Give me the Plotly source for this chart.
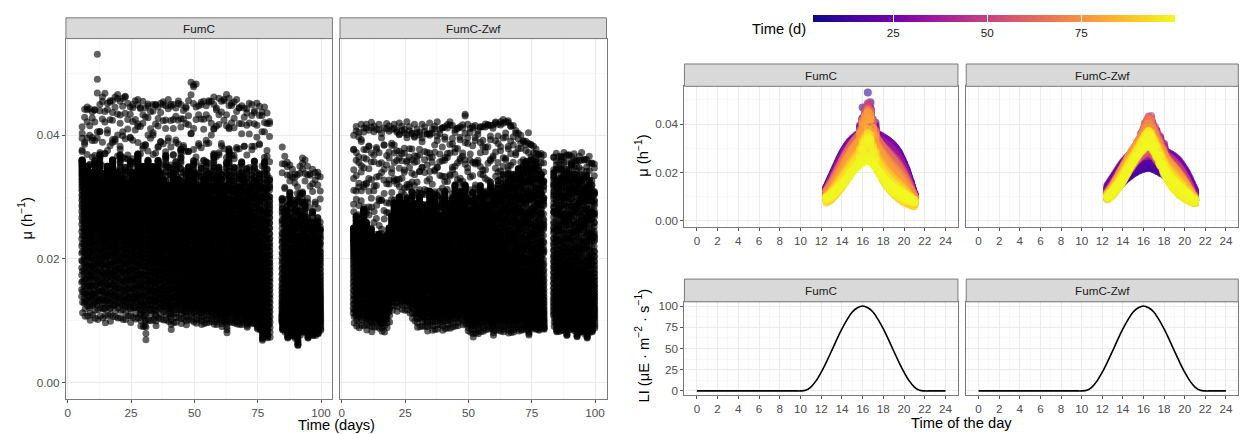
import plotly.graph_objects as go

W, H = 1241, 434
FONT = "Liberation Sans, Arial, sans-serif"

# ---------------- data ----------------
STRAINS = ["FumC", "FumC-Zwf"]

# sampling hours of the daily growth curve (light period, every 7.5 min)
HOURS = [12.5, 12.625, 12.75, 12.875, 13.0, 13.125, 13.25, 13.375, 13.5, 13.625,
         13.75, 13.875, 14.0, 14.125, 14.25, 14.375, 14.5, 14.625, 14.75, 14.875,
         15.0, 15.125, 15.25, 15.375, 15.5, 15.625, 15.75, 15.875, 16.0, 16.125,
         16.25, 16.375, 16.5, 16.625, 16.75, 16.875, 17.0, 17.125, 17.25, 17.375,
         17.5, 17.625, 17.75, 17.875, 18.0, 18.125, 18.25, 18.375, 18.5, 18.625,
         18.75, 18.875, 19.0, 19.125, 19.25, 19.375, 19.5, 19.625, 19.75, 19.875,
         20.0, 20.125, 20.25, 20.375, 20.5, 20.625, 20.75, 20.875, 21.0]
# normalised daily curve (0 = night floor, 1 = shoulder): broad (early run) vs narrow (late run)
RAMP_EARLY = [.15, .195, .24, .285, .33, .375, .42, .465, .51, .555,
              .60, .64, .68, .715, .75, .78, .81, .835, .86, .88,
              .90, .915, .93, .945, .96, .97, .98, .985, .99, .995,
              1.0, 1.0, 1.0, 1.0, 1.0, .995, .99, .985, .98, .975,
              .97, .96, .95, .94, .93, .92, .91, .895, .88, .865,
              .85, .83, .81, .785, .76, .73, .70, .66, .62, .575,
              .53, .48, .43, .37, .31, .245, .18, .115, .05]
RAMP_LATE = [.06, .075, .09, .105, .12, .145, .17, .195, .22, .25,
             .28, .31, .34, .38, .42, .46, .50, .54, .58, .62,
             .66, .695, .73, .765, .80, .83, .86, .89, .92, .945,
             .97, .985, 1.0, .98, .95, .91, .87, .82, .77, .72,
             .67, .62, .57, .52, .47, .43, .39, .355, .32, .29,
             .26, .235, .21, .19, .17, .15, .13, .115, .10, .085,
             .07, .06, .05, .04, .03, .02, .01, .005, .00]
# day-to-day alternation of the curve width around the seasonal trend
WIDTH_SWING = [-0.2, 0.2]
# share of the midday peak above the shoulder (three day-to-day variants per strain)
FUMC_TOP_HOURS = [[15.75, 16.0, 16.5, 16.75, 17.25],
                  [16.0, 16.25, 16.5, 17.0, 17.25],
                  [15.75, 16.25, 16.5, 16.75, 17.0]]
FUMC_TOP_FRACS = [[.35, .70, 1.0, .80, .40],
                  [.55, .90, 1.0, .60, .30],
                  [.25, .75, .95, 1.0, .50]]
ZWF_TOP_HOURS = [[15.5, 15.875, 16.25, 16.5, 16.875, 17.25, 17.625, 18.0],
                 [15.625, 16.0, 16.375, 16.625, 17.0, 17.375, 17.75, 18.125],
                 [15.375, 15.75, 16.125, 16.5, 16.75, 17.125, 17.5, 17.875]]
ZWF_TOP_FRACS = [[.30, .55, .85, 1.0, .85, .65, .45, .25],
                 [.35, .65, .95, 1.0, .75, .55, .35, .15],
                 [.20, .45, .75, .95, 1.0, .70, .50, .30]]
FIRST_DAY, LAST_DAY = 4, 99

FUMC_DAYS = [5, 6, 7, 8, 9, 10, 11, 12, 13, 14,
             15, 16, 17, 18, 19, 20, 21, 22, 23, 24,
             25, 26, 27, 28, 29, 30, 31, 32, 33, 34,
             35, 36, 37, 38, 39, 40, 41, 42, 43, 44,
             45, 46, 47, 48, 49, 50, 51, 52, 53, 54,
             55, 56, 57, 58, 59, 60, 61, 62, 63, 64,
             65, 66, 67, 68, 69, 70, 71, 72, 73, 74,
             75, 76, 77, 78, 79,
             84, 85, 86, 87, 88, 89, 90, 91, 92, 93,
             94, 95, 96, 97, 98, 99]
FUMC_PEAK = [.0414, .0442, .0446, .0443, .0438, .0445, .0531, .0450, .0462, .0468,
             .0452, .0460, .0456, .0462, .0466, .0455, .0460, .0468, .0452, .0446,
             .0450, .0456, .0458, .0450, .0455, .0444, .0452, .0438, .0450, .0456,
             .0446, .0452, .0456, .0448, .0458, .0455, .0450, .0444, .0458, .0450,
             .0440, .0452, .0456, .0486, .0485, .0483, .0448, .0459, .0455, .0448,
             .0460, .0455, .0462, .0450, .0460, .0455, .0463, .0466, .0460, .0458,
             .0454, .0458, .0450, .0448, .0444, .0448, .0452, .0450, .0444, .0452,
             .0447, .0444, .0446, .0436, .0427,
             .0381, .0366, .0360, .0352, .0345, .0340, .0336, .0350, .0366, .0360,
             .0350, .0342, .0345, .0340, .0344, .0333]
FUMC_SHOULDER = [.036, .033, .035, .032, .034, .036, .033, .037, .032, .034,
                 .035, .033, .036, .032, .034, .037, .033, .035, .032, .036,
                 .034, .033, .037, .032, .035, .034, .036, .033, .035, .032,
                 .036, .034, .033, .037, .032, .035, .034, .036, .033, .038,
                 .032, .034, .035, .033, .036, .034, .032, .035, .033, .036,
                 .034, .032, .037, .033, .035, .034, .032, .036, .038, .033,
                 .035, .032, .034, .036, .033, .035, .032, .034, .036, .033,
                 .034, .032, .036, .035, .033,
                 .030, .028, .029, .031, .027, .029, .030, .028, .031, .029,
                 .027, .026, .028, .026, .027, .025]
FUMC_LOW = [.0100, .0098, .0095, .0092, .0097, .0094, .0090, .0098, .0093, .0088,
            .0096, .0091, .0094, .0099, .0092, .0096, .0090, .0094, .0097, .0089,
            .0093, .0096, .0091, .0085, .0078, .0062, .0088, .0094, .0090, .0086,
            .0093, .0097, .0091, .0095, .0089, .0080, .0087, .0092, .0096, .0090,
            .0094, .0089, .0093, .0097, .0088, .0092, .0095, .0090, .0087, .0093,
            .0089, .0096, .0085, .0091, .0094, .0088, .0092, .0078, .0090, .0095,
            .0089, .0093, .0087, .0092, .0096, .0088, .0091, .0094, .0089, .0086,
            .0080, .0068, .0070, .0072, .0068,
            .0085, .0078, .0072, .0080, .0075, .0068, .0060, .0074, .0082, .0078,
            .0072, .0080, .0076, .0074, .0079, .0083]

ZWF_DAYS = [4, 5, 6, 7, 8, 9, 10, 11, 12, 13,
            14, 15, 16, 17, 18, 19, 20, 21, 22, 23,
            24, 25, 26, 27, 28, 29, 30, 31, 32, 33,
            34, 35, 36, 37, 38, 39, 40, 41, 42, 43,
            44, 45, 46, 47, 48, 49, 50, 51, 52, 53,
            54, 55, 56, 57, 58, 59, 60, 61, 62, 63,
            64, 65, 66, 67, 68, 69, 70, 71, 72, 73,
            74, 75, 76, 77, 78, 79,
            83, 84, 85, 86, 87, 88, 89, 90, 91, 92,
            93, 94, 95, 96, 97, 98, 99]
ZWF_PEAK = [.0400, .0415, .0405, .0418, .0412, .0420, .0408, .0422, .0415, .0410,
            .0418, .0405, .0412, .0420, .0415, .0410, .0418, .0412, .0420, .0416,
            .0410, .0422, .0414, .0408, .0418, .0412, .0406, .0418, .0414, .0408,
            .0420, .0412, .0416, .0422, .0410, .0418, .0414, .0420, .0424, .0416,
            .0410, .0418, .0414, .0420, .0437, .0418, .0412, .0420, .0416, .0410,
            .0418, .0414, .0420, .0424, .0416, .0420, .0426, .0418, .0424, .0430,
            .0422, .0428, .0420, .0416, .0410, .0406, .0400, .0396, .0392, .0404,
            .0388, .0384, .0378, .0374, .0372, .0368,
            .0368, .0372, .0366, .0370, .0374, .0368, .0372, .0366, .0370, .0364,
            .0368, .0372, .0365, .0362, .0366, .0360, .0356]
ZWF_SHOULDER = [.025, .027, .025, .026, .028, .026, .024, .025, .023, .022,
                .024, .022, .023, .024, .025, .027, .029, .028, .030, .027,
                .029, .030, .028, .031, .029, .028, .030, .029, .027, .029,
                .031, .028, .030, .029, .027, .030, .031, .029, .028, .030,
                .032, .029, .031, .030, .032, .030, .028, .031, .030, .029,
                .032, .030, .031, .029, .032, .030, .031, .033, .031, .034,
                .032, .035, .033, .034, .032, .035, .034, .035, .036, .034,
                .036, .035, .036, .035, .034, .033,
                .034, .035, .033, .036, .034, .035, .033, .036, .034, .035,
                .033, .034, .032, .034, .033, .032, .031]
ZWF_LOW = [.0088, .0084, .0080, .0086, .0082, .0078, .0084, .0076, .0082, .0086,
           .0080, .0078, .0074, .0084, .0090, .0112, .0116, .0110, .0118, .0114,
           .0108, .0112, .0104, .0098, .0090, .0084, .0080, .0086, .0082, .0078,
           .0084, .0080, .0076, .0082, .0086, .0080, .0078, .0084, .0080, .0086,
           .0082, .0088, .0094, .0090, .0086, .0080, .0074, .0070, .0072, .0076,
           .0074, .0080, .0078, .0084, .0080, .0074, .0078, .0082, .0076, .0080,
           .0084, .0078, .0074, .0080, .0086, .0082, .0078, .0084, .0080, .0076,
           .0082, .0086, .0080, .0084, .0090, .0086,
           .0086, .0082, .0078, .0084, .0080, .0076, .0082, .0086, .0080, .0074,
           .0078, .0082, .0076, .0072, .0078, .0082, .0086]

# light intensity profile (same for both strains)
LI_HOURS = [0, 0.5, 1, 1.5, 2, 2.5, 3, 3.5, 4, 4.5, 5, 5.5, 6, 6.5, 7, 7.5, 8, 8.5,
            9, 9.5, 10, 10.5, 11, 11.5, 12, 12.5, 13, 13.5, 14, 14.5, 15, 15.5,
            16, 16.5, 17, 17.5, 18, 18.5, 19, 19.5, 20, 20.5, 21, 21.5, 22, 22.5,
            23, 23.5, 24]
LI_VALUES = [0, 0, 0, 0, 0, 0, 0, 0, 0, 0, 0, 0, 0, 0, 0, 0, 0, 0,
             0, 0, 0, 0.7, 4.5, 11.8, 22, 34, 47, 60.5, 73, 84, 93, 98,
             100, 98, 93, 84, 73, 60.5, 47, 34, 22, 11.8, 4.5, 0.7, 0, 0,
             0, 0, 0]

for arrs in [(FUMC_DAYS, FUMC_PEAK, FUMC_SHOULDER, FUMC_LOW),
             (ZWF_DAYS, ZWF_PEAK, ZWF_SHOULDER, ZWF_LOW)]:
    assert len(set(len(a) for a in arrs)) == 1, [len(a) for a in arrs]
assert len(HOURS) == len(RAMP_EARLY) == len(RAMP_LATE), (len(HOURS), len(RAMP_EARLY), len(RAMP_LATE))
assert len(LI_HOURS) == len(LI_VALUES)


def build(days, peak, shoulder, low, top_hours, top_fracs):
    t_days, t_hours, mus = [], [], []
    for i, (d, pk, sh, lo) in enumerate(zip(days, peak, shoulder, low)):
        w = (d - FIRST_DAY) / (LAST_DAY - FIRST_DAY) + WIDTH_SWING[i % 2]
        w = min(1.0, max(0.0, w))
        k = i % len(top_hours)
        top = dict(zip(top_hours[k], top_fracs[k]))
        for h, re_, rl in zip(HOURS, RAMP_EARLY, RAMP_LATE):
            r = (1 - w) * re_ + w * rl
            t_days.append(d + h / 24.0)
            t_hours.append(h)
            mus.append(lo + (sh - lo) * r + (pk - sh) * top.get(h, 0.0))
    return t_days, t_hours, mus


DATA = {
    "FumC": build(FUMC_DAYS, FUMC_PEAK, FUMC_SHOULDER, FUMC_LOW,
                  FUMC_TOP_HOURS, FUMC_TOP_FRACS),
    "FumC-Zwf": build(ZWF_DAYS, ZWF_PEAK, ZWF_SHOULDER, ZWF_LOW,
                      ZWF_TOP_HOURS, ZWF_TOP_FRACS),
}

# ---------------- layout geometry (pixels) ----------------
LEFT_X = [(65, 331.7), (339.3, 606)]
LEFT_Y = (36, 400.5)
LEFT_STRIP = (15, 36)
RIGHT_X = [(684, 957.7), (966, 1238.3)]
RT_Y = (84.3, 226.7)
RT_STRIP = (61.7, 84.3)
RB_Y = (302.3, 396.7)
RB_STRIP = (279.3, 302.3)


def xd(a, b):
    return [a / W, b / W]


def yd(top, bottom):
    return [1 - bottom / H, 1 - top / H]


TICK_FONT = dict(family=FONT, size=11.7, color="#4D4D4D")
BORDER = "#7A7A7A"
GRID = "#EBEBEB"


def axis(domain, rng, dtick, minor_dtick, labels=True, anchor=None, fmt=None):
    d = dict(domain=domain, range=rng, dtick=dtick, tick0=0,
             showgrid=True, gridcolor=GRID, gridwidth=1,
             minor=dict(dtick=minor_dtick, tick0=0, showgrid=True,
                        gridcolor="#F3F3F3", gridwidth=0.6, ticks=""),
             zeroline=False, showline=True, mirror=True, linecolor=BORDER,
             linewidth=1, ticks="outside" if labels else "", ticklen=3,
             tickcolor="#555555", tickwidth=1, showticklabels=labels,
             tickfont=TICK_FONT, anchor=anchor, fixedrange=True)
    if fmt:
        d["tickformat"] = fmt
    return d


fig = go.Figure()
layout = dict(width=W, height=H, margin=dict(l=0, r=0, t=0, b=0),
              paper_bgcolor="white", plot_bgcolor="white", showlegend=False,
              hovermode=False, font=dict(family=FONT))

YR = [-0.00265, 0.05565]
# left panels: mu vs time (days)
for i, s in enumerate(STRAINS):
    n = 1 + i
    t_days, _, mus = DATA[s]
    fig.add_trace(go.Scatter(x=t_days, y=mus, mode="markers",
                             marker=dict(size=7, color="black", opacity=0.62,
                                         line=dict(width=0)),
                             xaxis=f"x{n}", yaxis=f"y{n}"))
    layout[f"xaxis{n}"] = axis(xd(*LEFT_X[i]), [-0.7, 104.5], 25, 12.5,
                               anchor=f"y{n}")
    layout[f"yaxis{n}"] = axis(yd(*LEFT_Y), YR, 0.02, 0.01, labels=(i == 0),
                               anchor=f"x{n}", fmt=".2f")

# right top panels: mu vs hour of day, coloured by day
for i, s in enumerate(STRAINS):
    n = 3 + i
    t_days, t_hours, mus = DATA[s]
    fig.add_trace(go.Scatter(x=t_hours, y=mus, mode="markers",
                             marker=dict(size=8, color=t_days, coloraxis="coloraxis",
                                         opacity=0.6, line=dict(width=0)),
                             xaxis=f"x{n}", yaxis=f"y{n}"))
    layout[f"xaxis{n}"] = axis(xd(*RIGHT_X[i]), [-1.2, 25.2], 2, 1, anchor=f"y{n}")
    layout[f"yaxis{n}"] = axis(yd(*RT_Y), YR, 0.02, 0.01, labels=(i == 0),
                               anchor=f"x{n}", fmt=".2f")

# right bottom panels: light intensity
for i, s in enumerate(STRAINS):
    n = 5 + i
    fig.add_trace(go.Scatter(x=LI_HOURS, y=LI_VALUES, mode="lines",
                             line=dict(color="black", width=1.6, shape="spline"),
                             xaxis=f"x{n}", yaxis=f"y{n}"))
    layout[f"xaxis{n}"] = axis(xd(*RIGHT_X[i]), [-1.2, 25.2], 2, 1, anchor=f"y{n}")
    layout[f"yaxis{n}"] = axis(yd(*RB_Y), [-5, 105], 25, 12.5, labels=(i == 0),
                               anchor=f"x{n}")

layout["coloraxis"] = dict(
    colorscale="Plasma", cmin=3.7, cmax=100,
    colorbar=dict(orientation="h", x=(813 + 1175) / 2 / W, xanchor="center",
                  len=(1175 - 813) / W, lenmode="fraction", thickness=7,
                  thicknessmode="pixels", y=1 - 12 / H, yanchor="top",
                  ypad=0, xpad=0, outlinewidth=0, tickvals=[25, 50, 75],
                  ticks="inside", ticklen=7, tickcolor="white", tickwidth=1,
                  tickfont=dict(family=FONT, size=11.7, color="#1A1A1A"),
                  title=dict(text="")))

shapes, annotations = [], []


def strip(xr, yr, label):
    shapes.append(dict(type="rect", xref="paper", yref="paper",
                       x0=xr[0] / W, x1=xr[1] / W, y0=1 - yr[1] / H, y1=1 - yr[0] / H,
                       fillcolor="#D9D9D9", line=dict(color=BORDER, width=1)))
    annotations.append(dict(text=label, xref="paper", yref="paper",
                            x=(xr[0] + xr[1]) / 2 / W, y=1 - (yr[0] + yr[1]) / 2 / H,
                            xanchor="center", yanchor="middle", showarrow=False,
                            font=dict(family=FONT, size=11.7, color="#1A1A1A")))


for i, s in enumerate(STRAINS):
    strip(LEFT_X[i], LEFT_STRIP, s)
    strip(RIGHT_X[i], RT_STRIP, s)
    strip(RIGHT_X[i], RB_STRIP, s)


def label(text, x, y, angle=0, size=14.7, color="black"):
    annotations.append(dict(text=text, xref="paper", yref="paper", x=x / W, y=1 - y / H,
                            xanchor="center", yanchor="middle", showarrow=False,
                            textangle=angle, font=dict(family=FONT, size=size, color=color)))


label("μ (h<sup>−1</sup>)", 25, 218, angle=-90)
label("Time (days)", 335.5, 426.5)
label("μ (h<sup>−1</sup>)", 642, 154, angle=-90)
label("LI (μE · m<sup>−2</sup> · s<sup>−1</sup>)", 642, 346, angle=-90)
label("Time of the day", 961, 424.5)
label("Time (d)", 778.5, 26)

layout["shapes"] = shapes
layout["annotations"] = annotations
fig.update_layout(**layout)
fig.write_html("out.html",
               config={"displayModeBar": False, "staticPlot": True},
               post_script="document.body.style.margin='0px';"
                           "document.body.style.padding='0px';")
